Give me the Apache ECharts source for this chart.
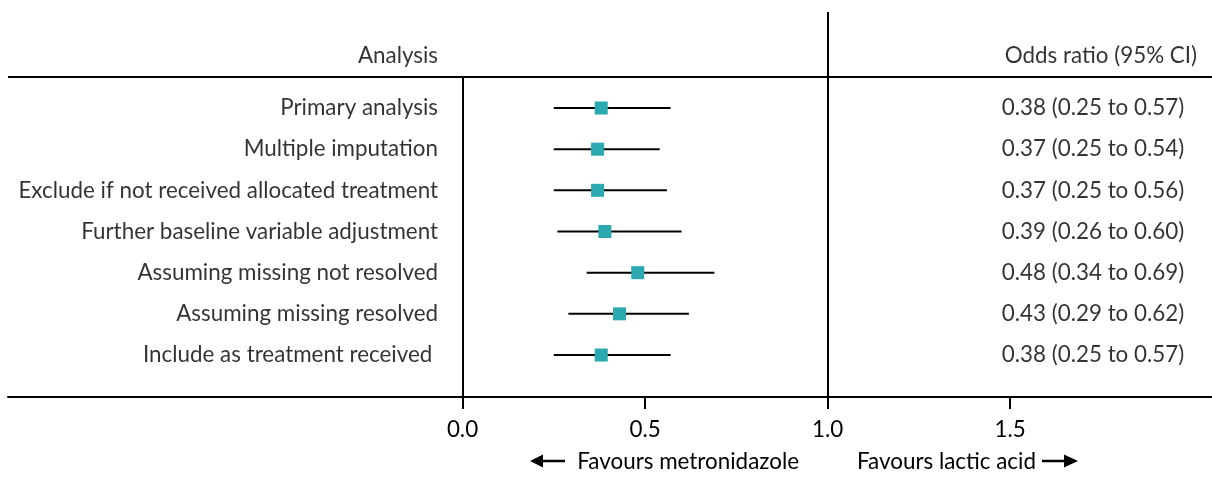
<!DOCTYPE html>
<html><head><meta charset="utf-8">
<script src="https://cdn.jsdelivr.net/npm/echarts@6/dist/echarts.min.js"></script>
<style>html,body{margin:0;padding:0;background:#fff}#c{width:1212px;height:484px}</style>
</head><body><div id="c"></div>
<script>
const analyses = ["Primary analysis","Multiple imputation","Exclude if not received allocated treatment","Further baseline variable adjustment","Assuming missing not resolved","Assuming missing resolved","Include as treatment received "];
const oddsRatio = [0.38,0.37,0.37,0.39,0.48,0.43,0.38];
const ciLow = [0.25,0.25,0.25,0.26,0.34,0.29,0.25];
const ciHigh = [0.57,0.54,0.56,0.60,0.69,0.62,0.57];
const tickValues = [0,0.5,1,1.5];
const colHeaders = ["Analysis","Odds ratio (95% CI)"];
const favours = ["Favours metronidazole","Favours lactic acid"];

const FONT = 'Lato, "Noto Sans", sans-serif';
const FS = 22.4;
const fmt = v => v.toFixed(2);
const rows = analyses.map((a,i)=>i);
const labelX = -0.067, orX = 1.977, headerY = -1.263, topLineY = -0.753;
const txt = {show:true,position:'inside',align:'right',verticalAlign:'middle',fontSize:FS,color:'#000',fontFamily:FONT};

const option = {
  animation:false,
  grid:{left:8,right:0,top:12,bottom:87},
  xAxis:{type:'value',min:-1.245,max:2.053,
    axisLine:{show:true,onZero:false,lineStyle:{color:'#000',width:2}},
    axisTick:{show:true,customValues:tickValues,length:12,lineStyle:{color:'#000',width:2}},
    axisLabel:{customValues:tickValues,formatter:v=>v.toFixed(1),margin:22,fontSize:FS,color:'#000',fontFamily:FONT},
    splitLine:{show:false}},
  yAxis:{type:'value',inverse:true,min:-2.332,max:7.02,show:false},
  series:[
    {type:'custom',
      renderItem:(params,api)=>{
        const p1=api.coord([api.value(0),api.value(2)]);
        const p2=api.coord([api.value(1),api.value(2)]);
        return {type:'line',shape:{x1:p1[0],y1:p1[1],x2:p2[0],y2:p2[1]},style:{stroke:'#000',lineWidth:2}};
      },
      encode:{x:[0,1],y:2},
      data:rows.map(i=>[ciLow[i],ciHigh[i],i]), z:3},
    {type:'scatter',symbol:'rect',symbolSize:13,itemStyle:{color:'#2aa9b0',opacity:1},
      data:rows.map(i=>[oddsRatio[i],i]),z:5,
      markLine:{silent:true,symbol:'none',label:{show:false},
        lineStyle:{color:'#000',width:2,type:'solid'},
        data:[
          {yAxis:topLineY},
          {xAxis:1},
          [{coord:[0,topLineY]},{coord:[0,7.02]}]
        ]}},
    {type:'scatter',symbolSize:0,silent:true,
      data:rows.map(i=>[labelX,i]),
      label:Object.assign({},txt,{formatter:p=>analyses[p.dataIndex]})},
    {type:'scatter',symbolSize:0,silent:true,
      data:rows.map(i=>[orX,i]),
      label:Object.assign({},txt,{formatter:p=>{const i=p.dataIndex;return fmt(oddsRatio[i])+' ('+fmt(ciLow[i])+' to '+fmt(ciHigh[i])+')';}})},
    {type:'scatter',symbolSize:0,silent:true,
      data:[[labelX,headerY],[2.012,headerY]],
      label:Object.assign({},txt,{formatter:p=>colHeaders[p.dataIndex]})}
  ],
  graphic:[
    {type:'text',x:799,y:462,style:{text:favours[0],align:'right',verticalAlign:'middle',fontSize:FS,fill:'#000',fontFamily:FONT}},
    {type:'text',x:857,y:462,style:{text:favours[1],align:'left',verticalAlign:'middle',fontSize:FS,fill:'#000',fontFamily:FONT}},
    {type:'line',shape:{x1:540,y1:461,x2:565,y2:461},style:{stroke:'#000',lineWidth:2.5}},
    {type:'polygon',shape:{points:[[530,461],[543,454.5],[543,467.5]]},style:{fill:'#000'}},
    {type:'line',shape:{x1:1042,y1:461,x2:1066,y2:461},style:{stroke:'#000',lineWidth:2.5}},
    {type:'polygon',shape:{points:[[1078,461],[1064,454.5],[1064,467.5]]},style:{fill:'#000'}}
  ]
};
const chart = echarts.init(document.getElementById('c'),null,{renderer:'canvas'});
chart.setOption(option);
</script></body></html>
